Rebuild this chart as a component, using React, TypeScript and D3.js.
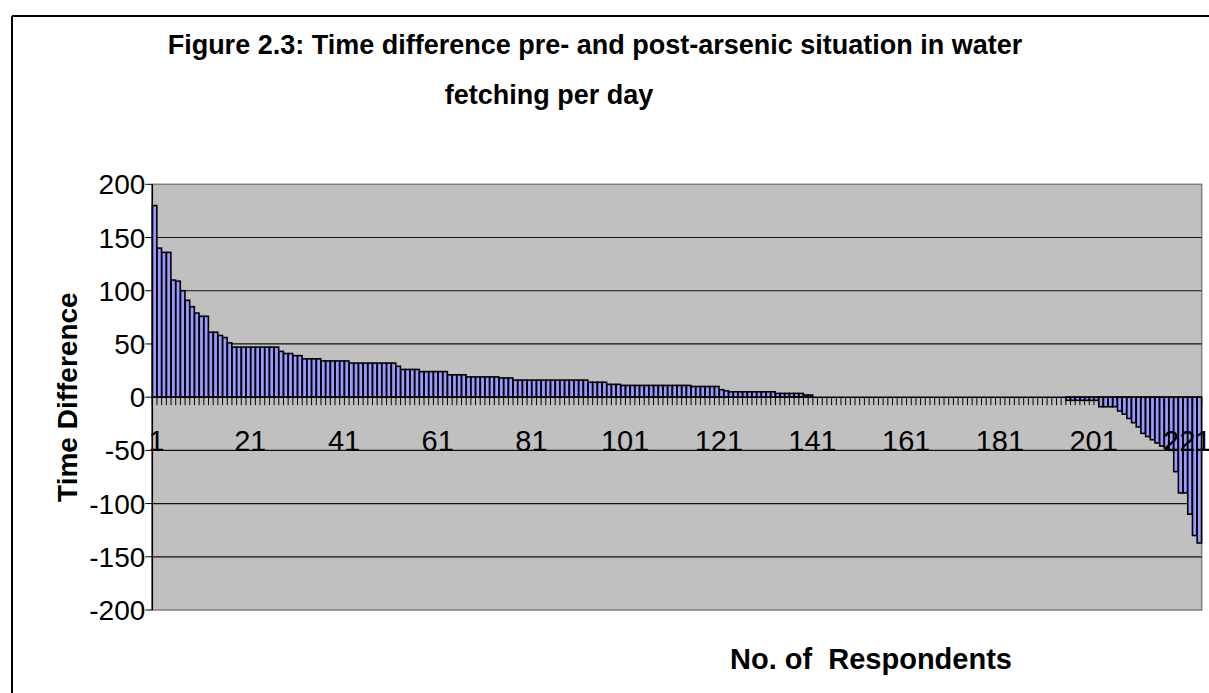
import React from "react";
import * as d3 from "d3";

const titleLines: string[] = [
  "Figure 2.3: Time difference pre- and post-arsenic situation in water",
  "fetching per day",
];
const yAxisTitle = "Time Difference";
const xAxisTitle = "No. of  Respondents";

const categories: number[] = d3.range(1, 225);

const values: number[] = [
  180, 140, 136, 136, 110, 109, 100, 91, 85, 79, 76, 76, 61, 61, 58, 56, 51,
  47, 47, 47, 47, 47, 47, 47, 47, 47, 47,
  43, 41, 41, 39, 39, 36, 36, 36, 36,
  34, 34, 34, 34, 34, 34,
  32, 32, 32, 32, 32, 32, 32, 32, 32, 32,
  29, 26, 26, 26, 26,
  24, 24, 24, 24, 24, 24,
  21, 21, 21, 21,
  19, 19, 19, 19, 19, 19, 19,
  18, 18, 18,
  16, 16, 16, 16, 16, 16, 16, 16, 16, 16, 16, 16, 16, 16, 16, 16,
  14, 14, 14, 14,
  12, 12, 12,
  11, 11, 11, 11, 11, 11, 11, 11, 11, 11, 11, 11, 11, 11, 11,
  10, 10, 10, 10, 10, 10,
  7, 6,
  5, 5, 5, 5, 5, 5, 5, 5, 5, 5,
  3.5, 3.5, 3.5, 3.5, 3.5, 3.5,
  2, 2,
  0, 0, 0, 0, 0, 0, 0, 0, 0, 0, 0, 0, 0, 0, 0, 0, 0, 0, 0, 0, 0, 0, 0, 0, 0, 0, 0,
  0, 0, 0, 0, 0, 0, 0, 0, 0, 0, 0, 0, 0, 0, 0, 0, 0, 0, 0, 0, 0, 0, 0, 0, 0, 0, 0,
  -3, -3, -3, -3, -3, -3, -3,
  -9, -9, -9, -9,
  -13, -16, -20, -24, -28, -34, -37, -40, -43, -46, -48, -50,
  -70, -90, -90, -110, -130, -137,
];

const yTicks: number[] = [-200, -150, -100, -50, 0, 50, 100, 150, 200];
const xTickLabels: number[] = [1, 21, 41, 61, 81, 101, 121, 141, 161, 181, 201, 221];

const FONT = "'Liberation Sans', Arial, Helvetica, sans-serif";

export default function App() {
  const W = 1209;
  const H = 693;
  const left = 152.3;
  const right = 1201.7;
  const top = 184.3;
  const bottom = 610;

  const x = d3
    .scaleBand<number>()
    .domain(categories)
    .range([left, right])
    .paddingInner(0.06)
    .paddingOuter(0.03);
  const xb = d3.scaleLinear().domain([0, categories.length]).range([left, right]);
  const y = d3.scaleLinear().domain([-200, 200]).range([bottom, top]);
  const y0 = y(0);

  return (
    <svg
      width={W}
      height={H}
      style={{ position: "absolute", left: 0, top: 0, display: "block", background: "#fff" }}
    >
      {/* outer frame */}
      <line x1={12} y1={16} x2={W} y2={16} stroke="#000" strokeWidth={2} />
      <line x1={12} y1={16} x2={12} y2={H} stroke="#000" strokeWidth={2} />

      {/* title */}
      <text x={595} y={54} textAnchor="middle" fontFamily={FONT} fontWeight="bold" fontSize={27}>
        {titleLines[0]}
      </text>
      <text x={549} y={104} textAnchor="middle" fontFamily={FONT} fontWeight="bold" fontSize={27}>
        {titleLines[1]}
      </text>

      {/* plot area */}
      <rect x={left} y={top} width={right - left} height={bottom - top} fill="#C0C0C0" stroke="#808080" strokeWidth={1.5} />

      {/* gridlines */}
      {yTicks
        .filter((t) => t !== 0 && t !== 200 && t !== -200)
        .map((t) => (
          <line key={"g" + t} x1={left} x2={right} y1={y(t)} y2={y(t)} stroke="#111" strokeWidth={1.2} />
        ))}

      {/* bars */}
      {categories.map((c, i) => {
        const v = values[i];
        if (!v) return null;
        const yy = y(Math.max(0, v));
        const h = Math.abs(y(v) - y0);
        return (
          <rect
            key={"b" + c}
            x={x(c)}
            y={yy}
            width={x.bandwidth()}
            height={h}
            fill="#9999FF"
            stroke="#000"
            strokeWidth={1.6}
          />
        );
      })}

      {/* x axis line and ticks */}
      <line x1={left} x2={right} y1={y0} y2={y0} stroke="#000" strokeWidth={1.5} />
      {d3.range(0, categories.length + 1).map((k) => (
        <line key={"xt" + k} x1={xb(k)} x2={xb(k)} y1={y0} y2={y0 + 8} stroke="#000" strokeWidth={1} />
      ))}
      {xTickLabels.map((c) => (
        <text
          key={"xl" + c}
          x={(x(c) as number) + x.bandwidth() / 2 + 2}
          y={451}
          textAnchor="middle"
          fontFamily={FONT}
          fontSize={29}
        >
          {c}
        </text>
      ))}

      {/* y axis */}
      <line x1={left} x2={left} y1={top} y2={bottom} stroke="#000" strokeWidth={1.5} />
      {yTicks.map((t) => (
        <g key={"yt" + t}>
          <line x1={left - 7} x2={left} y1={y(t)} y2={y(t)} stroke="#000" strokeWidth={1} />
          <text x={left - 7} y={y(t) + 10} textAnchor="end" fontFamily={FONT} fontSize={28}>
            {t}
          </text>
        </g>
      ))}

      {/* axis titles */}
      <text
        transform={`translate(77, ${(top + bottom) / 2}) rotate(-90)`}
        textAnchor="middle"
        fontFamily={FONT}
        fontWeight="bold"
        fontSize={28}
      >
        {yAxisTitle}
      </text>
      <text
        x={871}
        y={669}
        textAnchor="middle"
        fontFamily={FONT}
        fontWeight="bold"
        fontSize={29}
        style={{ whiteSpace: "pre" }}
      >
        {xAxisTitle}
      </text>
    </svg>
  );
}
